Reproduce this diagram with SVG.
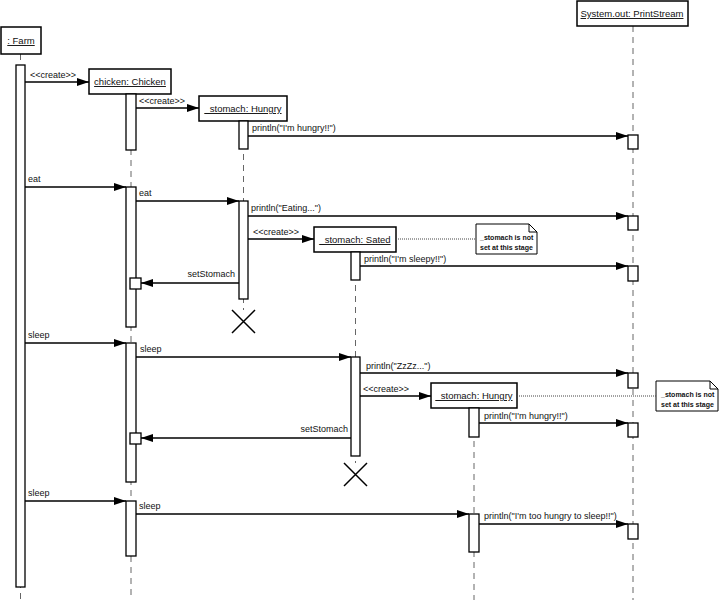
<svg xmlns="http://www.w3.org/2000/svg" width="719" height="600" viewBox="0 0 719 600">
<defs>
<style>
text{font-family:"Liberation Sans",Arial,sans-serif;fill:#111}
.obj{font-size:9.5px;text-decoration:underline;text-anchor:middle}
.msg{font-size:9px}
.note{font-size:7px;font-weight:bold}
.box{fill:#fff;stroke:#000;stroke-width:1.5}
.act{fill:#fff;stroke:#000;stroke-width:1.3}
.life{stroke:#666;stroke-width:1;stroke-dasharray:6,5;fill:none}
.arr{stroke:#000;stroke-width:1.3;fill:none;marker-end:url(#ah)}
.dot{stroke:#444;stroke-width:1;stroke-dasharray:1,1;fill:none}
.x{stroke:#000;stroke-width:1.5;fill:none}
</style>
<marker id="ah" viewBox="0 0 12 8" refX="12" refY="4" markerWidth="12" markerHeight="8" markerUnits="userSpaceOnUse" orient="auto">
<path d="M0,0 L12,4 L0,8 Z" fill="#000"/>
</marker>
</defs>
<rect width="719" height="600" fill="#fff"/>

<g id="lifelines">
<line class="life" x1="20.5" y1="54" x2="20.5" y2="600"/>
<line class="life" x1="131" y1="94" x2="131" y2="600"/>
<line class="life" x1="243.5" y1="121" x2="243.5" y2="310"/>
<line class="life" x1="355.5" y1="252" x2="355.5" y2="463"/>
<line class="life" x1="474" y1="408" x2="474" y2="600"/>
<line class="life" x1="633" y1="26" x2="633" y2="600"/>
</g>

<g id="farm">
<rect class="box" x="1" y="27" width="40" height="27"/>
<text class="obj" x="21" y="44">: Farm</text>
<rect class="act" x="16" y="65" width="9" height="522"/>
</g>

<g id="chicken">
<rect class="box" x="89" y="69" width="82" height="25"/>
<text class="obj" x="130" y="85">chicken: Chicken</text>
<rect class="act" x="126" y="94" width="10" height="56"/>
<rect class="act" x="126" y="187" width="10" height="140"/>
<rect class="act" x="130" y="278" width="11" height="11"/>
<rect class="act" x="126" y="343" width="10" height="139"/>
<rect class="act" x="130" y="433" width="11" height="11"/>
<rect class="act" x="126" y="501" width="10" height="55"/>
</g>

<g id="stomach-hungry-1">
<rect class="box" x="199" y="96" width="88" height="25"/>
<text class="obj" x="243" y="112">_stomach: Hungry</text>
<rect class="act" x="239" y="121" width="9" height="28"/>
<rect class="act" x="239" y="201" width="9" height="98"/>
<path class="x" d="M232,310 L255,333 M255,310 L232,333"/>
</g>

<g id="stomach-sated">
<rect class="box" x="314" y="227" width="82" height="25"/>
<text class="obj" x="355" y="243">_stomach: Sated</text>
<rect class="act" x="351" y="252" width="9" height="28"/>
<rect class="act" x="351" y="357" width="9" height="99"/>
<path class="x" d="M344,463 L367,486 M367,463 L344,486"/>
</g>

<g id="stomach-hungry-2">
<rect class="box" x="431" y="383" width="86" height="25"/>
<text class="obj" x="474" y="399">_stomach: Hungry</text>
<rect class="act" x="469" y="408" width="10" height="29"/>
<rect class="act" x="469" y="514" width="10" height="38"/>
</g>

<g id="system-out">
<rect class="box" x="577" y="1" width="111" height="25"/>
<text class="obj" x="632" y="17">System.out: PrintStream</text>
<rect class="act" x="628" y="135" width="10" height="14"/>
<rect class="act" x="628" y="216" width="10" height="14"/>
<rect class="act" x="628" y="266" width="10" height="15"/>
<rect class="act" x="628" y="373" width="10" height="15"/>
<rect class="act" x="628" y="423" width="10" height="14"/>
<rect class="act" x="628" y="524" width="10" height="15"/>
</g>

<g id="note-1">
<path d="M476,224 H529 L537,232 V254 H476 Z" fill="#fff" stroke="#000" stroke-width="1"/>
<path d="M529,224 V232 H537" fill="none" stroke="#000" stroke-width="1"/>
<text class="note" x="480" y="240">_stomach is not</text>
<text class="note" x="480" y="250">set at this stage</text>
</g>

<g id="note-2">
<path d="M656,381 H710 L718,389 V411 H656 Z" fill="#fff" stroke="#000" stroke-width="1"/>
<path d="M710,381 V389 H718" fill="none" stroke="#000" stroke-width="1"/>
<text class="note" x="661" y="397">_stomach is not</text>
<text class="note" x="661" y="407">set at this stage</text>
</g>

<g id="connectors">
<line class="arr" x1="25" y1="82" x2="89" y2="82"/>
<text class="msg" x="30" y="78">&lt;&lt;create&gt;&gt;</text>
<line class="arr" x1="136" y1="108" x2="199" y2="108"/>
<text class="msg" x="139" y="104">&lt;&lt;create&gt;&gt;</text>
<line class="arr" x1="248" y1="136" x2="628" y2="136"/>
<text class="msg" x="252" y="131">println("I'm hungry!!")</text>

<line class="arr" x1="25" y1="187" x2="126" y2="187"/>
<text class="msg" x="28" y="182">eat</text>
<line class="arr" x1="136" y1="201" x2="239" y2="201"/>
<text class="msg" x="139" y="196">eat</text>
<line class="arr" x1="248" y1="216" x2="628" y2="216"/>
<text class="msg" x="251" y="211">println("Eating...")</text>
<line class="arr" x1="248" y1="239" x2="314" y2="239"/>
<text class="msg" x="253" y="235">&lt;&lt;create&gt;&gt;</text>
<line class="dot" x1="396" y1="239" x2="476" y2="239"/>
<line class="arr" x1="360" y1="266" x2="628" y2="266"/>
<text class="msg" x="364" y="262">println("I'm sleepy!!")</text>
<line class="arr" x1="239" y1="283" x2="141" y2="283"/>
<text class="msg" x="235" y="277" text-anchor="end">setStomach</text>

<line class="arr" x1="25" y1="343" x2="126" y2="343"/>
<text class="msg" x="28" y="338">sleep</text>
<line class="arr" x1="136" y1="357" x2="351" y2="357"/>
<text class="msg" x="140" y="352">sleep</text>
<line class="arr" x1="360" y1="373" x2="628" y2="373"/>
<text class="msg" x="366" y="369">println("ZzZz...")</text>
<line class="arr" x1="360" y1="396" x2="431" y2="396"/>
<text class="msg" x="363" y="392">&lt;&lt;create&gt;&gt;</text>
<line class="dot" x1="517" y1="396" x2="656" y2="396"/>
<line class="arr" x1="479" y1="423" x2="628" y2="423"/>
<text class="msg" x="484" y="419">println("I'm hungry!!")</text>
<line class="arr" x1="351" y1="438" x2="141" y2="438"/>
<text class="msg" x="348" y="432" text-anchor="end">setStomach</text>

<line class="arr" x1="25" y1="501" x2="126" y2="501"/>
<text class="msg" x="28" y="496">sleep</text>
<line class="arr" x1="136" y1="514" x2="469" y2="514"/>
<text class="msg" x="139" y="509">sleep</text>
<line class="arr" x1="479" y1="524" x2="628" y2="524"/>
<text class="msg" x="484" y="519">println("I'm too hungry to sleep!!")</text>
</g>
</svg>
